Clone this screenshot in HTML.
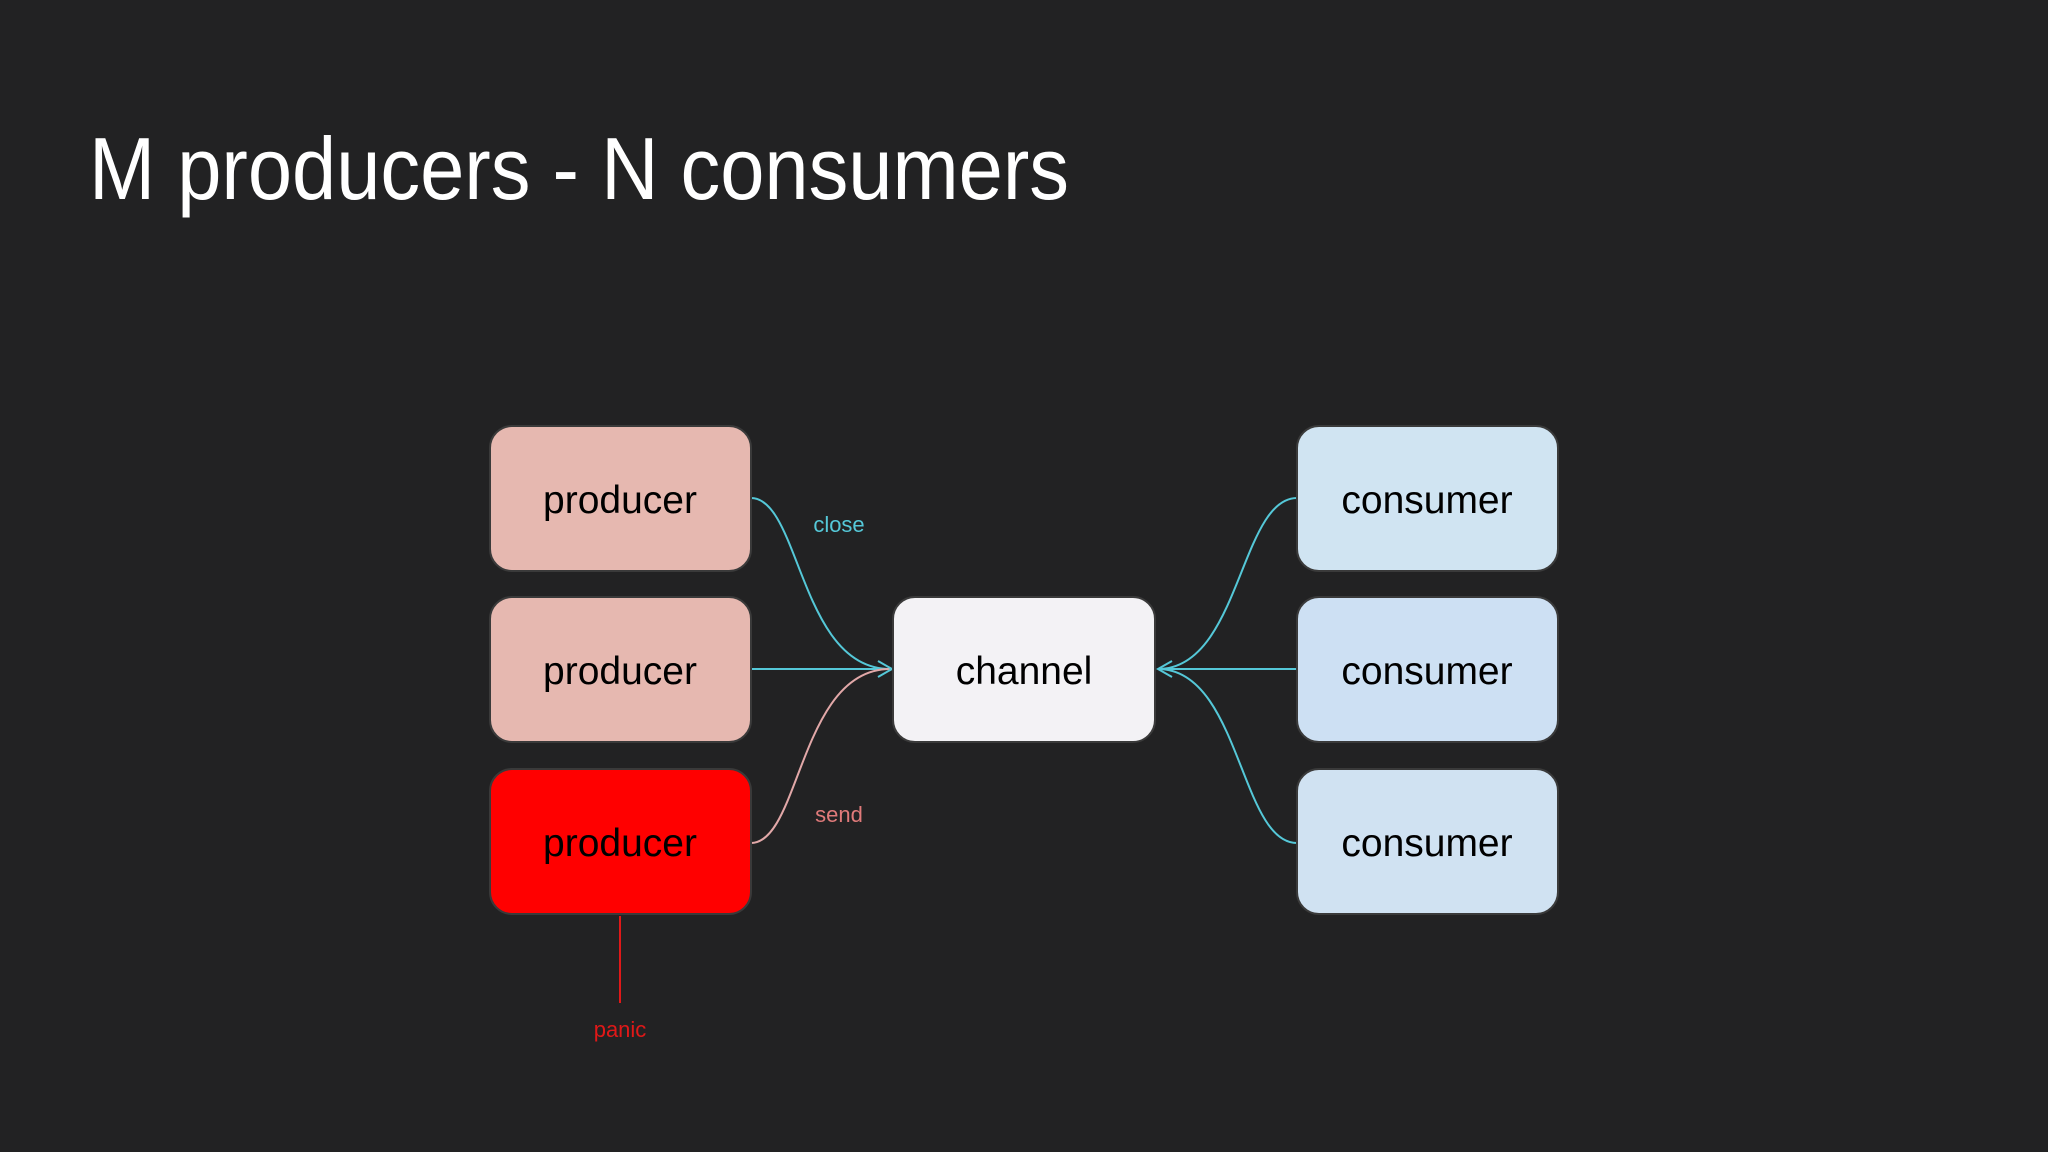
<!DOCTYPE html>
<html><head><meta charset="utf-8"><style>
html,body{margin:0;padding:0;background:#222223;}
svg{display:block}
</style></head><body>
<svg width="2048" height="1152" viewBox="0 0 2048 1152" xmlns="http://www.w3.org/2000/svg" font-family="Liberation Sans, Arial, sans-serif">
<rect width="2048" height="1152" fill="#222223"/>
<text x="89" y="199" font-size="88" fill="#ffffff" textLength="980" lengthAdjust="spacingAndGlyphs">M producers - N consumers</text>
<g fill="none" stroke-width="2">
<path d="M751 498 C 800 498, 800 669, 890 669" stroke="#55c8d8"/>
<path d="M751 669 L 890 669" stroke="#55c8d8"/>
<path d="M751 843 C 800 843, 800 669, 890 669" stroke="#e2a8a8"/>
<path d="M878 661 L 892 669 L 878 677" stroke="#55c8d8"/>
<path d="M1158 669 C 1240 669, 1240 498, 1297 498" stroke="#55c8d8"/>
<path d="M1158 669 L 1297 669" stroke="#55c8d8"/>
<path d="M1158 669 C 1240 669, 1240 843, 1297 843" stroke="#55c8d8"/>
<path d="M1172 661 L 1158 669 L 1172 677" stroke="#55c8d8"/>
<path d="M620 916 L 620 1003" stroke="#e01818"/>
</g>
<g stroke="#3a3a3a" stroke-width="2">
<rect x="490" y="426" width="261" height="145" rx="22" fill="#e6b8b0"/>
<rect x="490" y="597" width="261" height="145" rx="22" fill="#e6b8b0"/>
<rect x="490" y="769" width="261" height="145" rx="22" fill="#ff0000"/>
<rect x="893" y="597" width="262" height="145" rx="22" fill="#f3f2f5"/>
<rect x="1297" y="426" width="261" height="145" rx="22" fill="#d0e4f2"/>
<rect x="1297" y="597" width="261" height="145" rx="22" fill="#cde0f3"/>
<rect x="1297" y="769" width="261" height="145" rx="22" fill="#d0e2f2"/>
</g>
<g font-size="39" fill="#000" text-anchor="middle">
<text x="620" y="513">producer</text>
<text x="620" y="684">producer</text>
<text x="620" y="856">producer</text>
<text x="1024" y="684">channel</text>
<text x="1427" y="513">consumer</text>
<text x="1427" y="684">consumer</text>
<text x="1427" y="856">consumer</text>
</g>
<g font-size="22" text-anchor="middle">
<text x="839" y="532" fill="#55c8d8">close</text>
<text x="839" y="822" fill="#e07a7a">send</text>
<text x="620" y="1037" fill="#e01818">panic</text>
</g>
</svg>
</body></html>
